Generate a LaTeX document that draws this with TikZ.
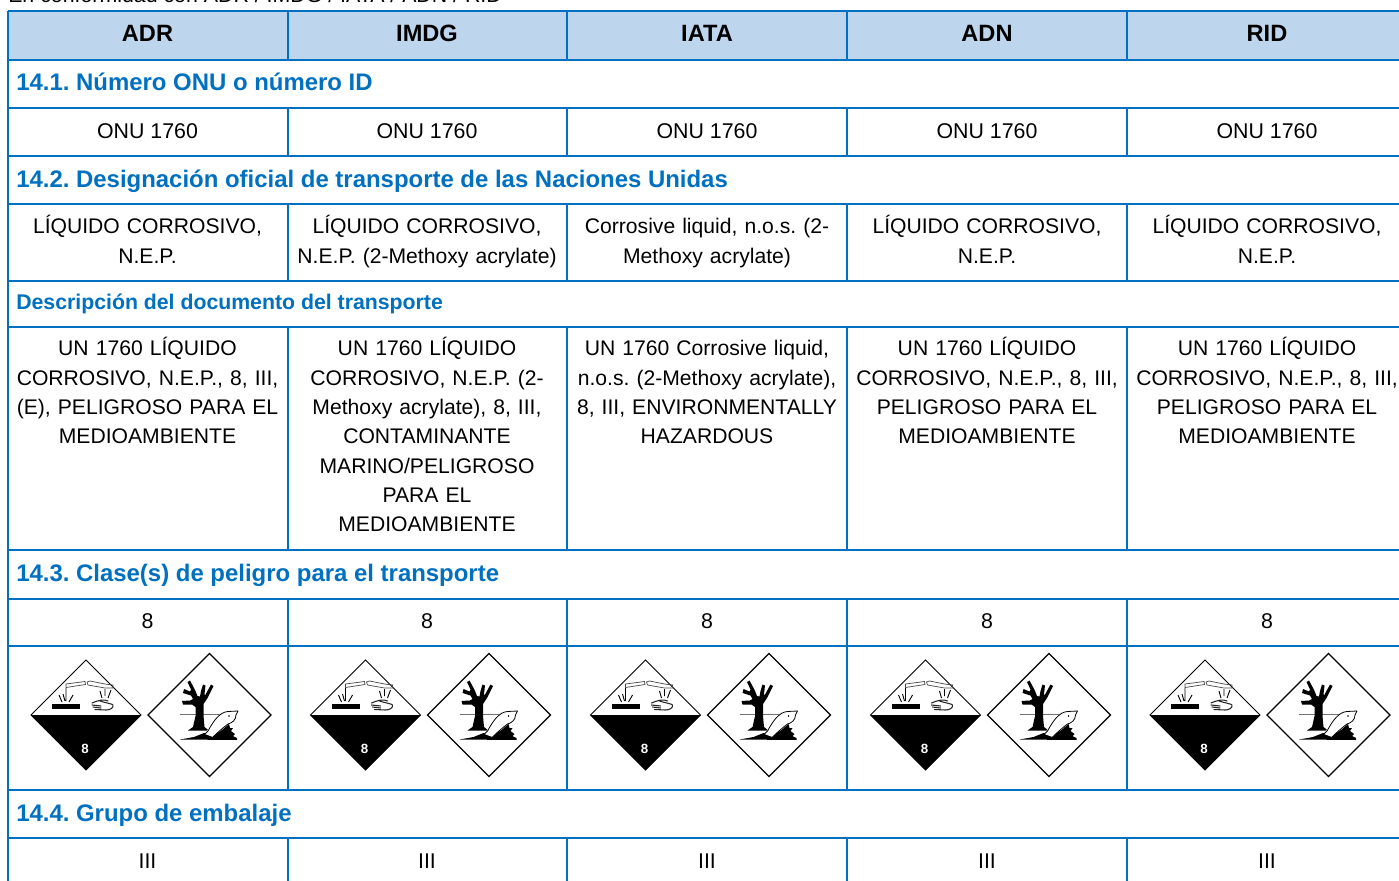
\documentclass[tikz,border=0pt]{standalone}
\usepackage{fontspec}
\setmainfont{Liberation Sans}
\frenchspacing
\definecolor{rulecol}{HTML}{0070C0}
\definecolor{headfill}{HTML}{BDD6EE}
\newcommand{\bodyfont}{\fontsize{16}{22}\selectfont}
\newcommand{\cellfont}{\fontsize{15.85}{22}\selectfont}
\tikzset{
  x=0.75pt,y=-0.75pt,
  gridline/.style={draw=rulecol,line width=1.5pt},
  headtext/.style={font=\fontsize{17.7}{22}\selectfont\bfseries,anchor=center,text=black},
  celltext/.style={font=\cellfont,align=center,anchor=north,inner sep=0pt,text width=200pt},
  sectext/.style={font=\fontsize{17.95}{22}\selectfont\bfseries,text=rulecol,anchor=base west,inner sep=0pt},
  subtext/.style={font=\fontsize{15.95}{22}\selectfont\bfseries,text=rulecol,anchor=base west,inner sep=0pt},
  ghs/.pic={
    % corrosive
    \fill[white] (31,715)--(86,660)--(141,715)--(86,770)--cycle;
    \draw[black,line width=0.75pt,line join=miter] (31,715)--(86,660)--(141,715)--(86,770)--cycle;
    \fill[black] (31,715)--(141,715)--(86,770)--cycle;
    \node[text=white,font=\fontsize{10}{10}\selectfont\bfseries,inner sep=0pt] at (85,749) {8};
    \fill[black] (52,704)rectangle(80,709);
    \draw[black!70,line width=.55pt] (66,684)--(85,681.5)--(85.5,684.5)--(66,687.5)--cycle (87,682)--(88,685)--(105,688)--(113,688)--(113,685)--(105,684)--(90,681)--cycle;
    \draw[black,line width=.7pt] (66,688)--(66,701) (105,689)--(105,696) (100,691)--(102,698) (111,690)--(108,698) (59,695)--(62,702) (73,695)--(69,702) (63,694)--(65,701);
    \draw[black!85,line width=.8pt,line cap=round] (92,703)..controls (99,700) and (104,699) ..(108,701) (100,701)..controls (106,703) and (113,704) ..(113,705) (92,705)--(101,706) (93,707)--(101,708) (95,709.5)--(106,710)..controls (110,710) and (113,708) ..(113,706);
    % environment
    \fill[white] (148,715)--(209.5,653.5)--(271,715)--(209.5,776.5)--cycle;
    \draw[black,line width=0.9pt,line join=miter] (148,715)--(209.5,653.5)--(271,715)--(209.5,776.5)--cycle;
    \draw[black!55,line width=.9pt] (180,714.5)--(232,714.5);
    \fill[black] (193,727)--(195.5,716)--(195.5,707)--(192,704.5)--(183,704.5)--(182,701)--(190,700.5)--(193,699)--(191,695.5)--(183,693)--(184,689)--(190,691.5)--(191,689.5)--(187.5,682)--(190,680.5)--(193.5,687)--(195.5,691)--(197.5,696)--(200,696.5)--(201,691)--(203,684.5)--(205.5,685.5)--(204.5,694)--(205,695.5)--(211,684.5)--(213.5,686)--(207.5,698)--(203.5,704)--(203.5,716)--(204.5,727)--(209,730.5)--(188,730.5)--cycle;
    \fill[black] (180,739.5)--(194,737)--(204,733)--(214,735)--(222,730)--(229,724)--(230,728)--(233,728)--(231,731)--(235,734)--(233,736)--(237,738)--(237,740)--cycle;
    \fill[white] (205,734)..controls (214,720) and (220,711) ..(228,711)--(238,711)--(236,715)..controls (236,720) and (232,723) ..(228,724)..controls (224,727) and (218,732) ..(213,737)--cycle;
    \draw[black,line width=.6pt,line join=round] (204,735)--(208,731)..controls (214,720) and (220,712) ..(228,711.5)--(238,711)--(236,715)..controls (236,720) and (232,723) ..(228,724)..controls (224,727) and (218,732) ..(213,737);
    \fill[black] (229,716) circle (.8);
  }
}
\begin{document}
\begin{tikzpicture}
\useasboundingbox (0,0) rectangle (1399,881);
\clip (0,0) rectangle (1399,881);
\fill[white] (0,0) rectangle (1399,881);
\node[font=\bodyfont,anchor=base west,inner sep=0pt] (caption) at (8,3) {En conformidad con ADR / IMDG / IATA / ADN / RID};
\fill[headfill] (8,11) rectangle (1410,60);
% horizontal rules
\foreach \yy in {11,60,107.5,155.5,203.5,281,327,550,599,646,790,838}
  \draw[gridline] (8,\yy) -- (1410,\yy);
% vertical rules
\draw[gridline] (8,11) -- (8,890);
\foreach \yr/\ys in {11/60,107.5/155.5,203.5/281,327/550,599/790,838/890}
  \foreach \xx in {288,567,847,1127}
    \draw[gridline] (\xx,\yr) -- (\xx,\ys);
% header
\foreach \n/\t/\cx in {a/ADR/147.5,b/IMDG/427,c/IATA/707,d/ADN/987,e/RID/1267}
  \node[headtext] (head\n) at (\cx,33.5) {\t};
% sections
\node[sectext] (s1) at (16,91) {14.1. Número ONU o número ID};
\node[sectext] (s2) at (16,187) {14.2. Designación oficial de transporte de las Naciones Unidas};
\node[subtext] (s2b) at (16,309) {Descripción del documento del transporte};
\node[sectext] (s3) at (16,581) {14.3. Clase(s) de peligro para el transporte};
\node[sectext] (s4) at (16,821) {14.4. Grupo de embalaje};
% row values
\foreach \n/\cx in {a/147.5,b/427,c/707,d/987,e/1267}{
  \node[font=\bodyfont] (onu\n) at (\cx,131) {ONU 1760};
  \node[font=\bodyfont] (cls\n) at (\cx,621) {8};
  \node[font=\bodyfont] (grp\n) at (\cx,861) {III};
}
\newcommand{\twol}[4]{\node[celltext] (#1) at (#2,213.5) {\baselineskip=22.4pt \rule{0pt}{15pt}#3\\#4};}
\twol{na}{147.5}{LÍQUIDO CORROSIVO,}{N.E.P.}
\twol{nb}{427}{LÍQUIDO CORROSIVO,}{N.E.P. (2-Methoxy acrylate)}
\twol{nc}{707}{Corrosive liquid, n.o.s. (2-}{Methoxy acrylate)}
\twol{nd}{987}{LÍQUIDO CORROSIVO,}{N.E.P.}
\twol{ne}{1267}{LÍQUIDO CORROSIVO,}{N.E.P.}
\newcommand{\desc}[3]{\node[celltext] (#1) at (#2,335.5) {\baselineskip=22pt \rule{0pt}{15pt}#3};}
\desc{da}{147.5}{UN 1760 LÍQUIDO\\CORROSIVO, N.E.P., 8, III,\\(E), PELIGROSO PARA EL\\MEDIOAMBIENTE}
\desc{db}{427}{UN 1760 LÍQUIDO\\CORROSIVO, N.E.P. (2-\\Methoxy acrylate), 8, III,\\CONTAMINANTE\\MARINO/PELIGROSO\\PARA EL\\MEDIOAMBIENTE}
\desc{dc}{707}{UN 1760 Corrosive liquid,\\n.o.s. (2-Methoxy acrylate),\\8, III, ENVIRONMENTALLY\\HAZARDOUS}
\desc{dd}{987}{UN 1760 LÍQUIDO\\CORROSIVO, N.E.P., 8, III,\\PELIGROSO PARA EL\\MEDIOAMBIENTE}
\desc{de}{1267}{UN 1760 LÍQUIDO\\CORROSIVO, N.E.P., 8, III,\\PELIGROSO PARA EL\\MEDIOAMBIENTE}
% pictograms
\foreach \dx in {0,279.5,559.5,839.5,1119}
  \pic at (\dx,0) {ghs};
\end{tikzpicture}
\end{document}
